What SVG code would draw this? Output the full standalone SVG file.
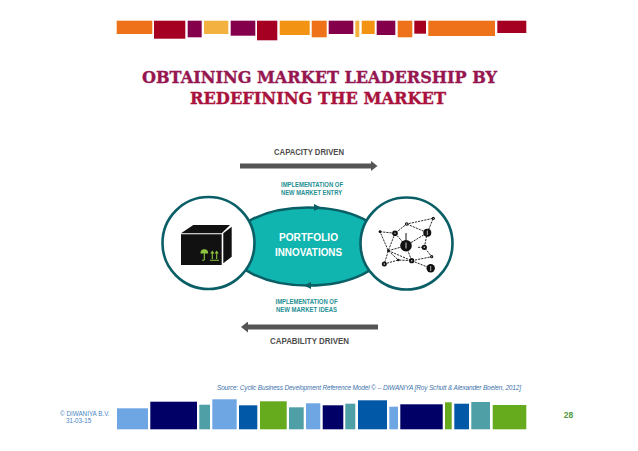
<svg xmlns="http://www.w3.org/2000/svg" width="638" height="451" viewBox="0 0 638 451">
<style>
text{font-family:"Liberation Sans",Arial,sans-serif}
.title{font-family:"DejaVu Serif","Liberation Serif",serif;font-weight:700;font-size:16px;text-anchor:middle;stroke-width:.35px}
.drv{font-size:8.600px;font-weight:700;fill:#4d4d4d;text-anchor:middle}
.impl{font-size:6.300px;font-weight:700;fill:#1f8f94;text-anchor:middle}
.o{fill:#ee7219}.r{fill:#a50021}.p{fill:#84004b}.y{fill:#f3b13f}.a{fill:#f39314}
.lb{fill:#6ea6e4}.n{fill:#000066}.t{fill:#4f9fa6}.b{fill:#0058a6}.g{fill:#66aa1e}
.ring{fill:#fff;stroke:#0a5f66;stroke-width:2.600}
.ln{stroke:#111;stroke-width:.9;stroke-dasharray:2.200 1;fill:none}
.nd{fill:#111}
.hole{fill:#ddd}
.ic{stroke:#8cc63f;stroke-width:1.100;fill:none}
</style>
<defs>
<marker id="ah" markerUnits="userSpaceOnUse" markerWidth="8" markerHeight="11" refX="1" refY="5.500" orient="auto"><path d="M0 0L7 5.500L0 11Z" fill="#555"/></marker>
</defs>
<g id="top-bars">
<rect class="o" x="116.700" y="20.700" width="35.600" height="13.300"/>
<rect class="r" x="154" y="20.700" width="31.300" height="18"/>
<rect class="p" x="187.700" y="20.700" width="14" height="16.600"/>
<rect class="y" x="204" y="20.700" width="24.300" height="13.300"/>
<rect class="p" x="230.700" y="20.700" width="24.600" height="15"/>
<rect class="r" x="257" y="20.700" width="20.300" height="19.600"/>
<rect class="a" x="279.700" y="20.700" width="30" height="14.300"/>
<rect class="o" x="311.700" y="20.700" width="15" height="16.600"/>
<rect class="p" x="328.700" y="20.700" width="24.600" height="13.300"/>
<rect class="y" x="355.300" y="20.700" width="4" height="16.300"/>
<rect class="a" x="361.700" y="20.700" width="13" height="13.300"/>
<rect class="p" x="376.700" y="20.700" width="18.600" height="14.300"/>
<rect class="o" x="397.700" y="20.700" width="14.600" height="16.600"/>
<rect class="r" x="414.300" y="20.700" width="11.700" height="13"/>
<rect class="o" x="428.300" y="20.700" width="66.700" height="15.300"/>
<rect class="r" x="497.300" y="20.700" width="29" height="12.300"/>
</g>
<g id="title">
<text class="title" x="319.500" y="83" fill="#961650" stroke="#961650" textLength="355" lengthAdjust="spacingAndGlyphs">OBTAINING MARKET LEADERSHIP BY</text>
<text class="title" x="318" y="103.500" fill="#a8123c" stroke="#a8123c" textLength="256" lengthAdjust="spacingAndGlyphs">REDEFINING THE MARKET</text>
</g>
<g id="connectors">
<path d="M240 166H371.500" stroke="#555" stroke-width="5" marker-end="url(#ah)"/>
<path d="M378 327H247" stroke="#555" stroke-width="5" marker-end="url(#ah)"/>
</g>
<g id="capacity-label"><text class="drv" x="309" y="155" textLength="70" lengthAdjust="spacingAndGlyphs">CAPACITY DRIVEN</text></g>
<g id="impl-entry">
<text class="impl" x="312" y="186.500" textLength="62" lengthAdjust="spacingAndGlyphs">IMPLEMENTATION OF</text>
<text class="impl" x="311.500" y="194.500" textLength="61" lengthAdjust="spacingAndGlyphs">NEW MARKET ENTRY</text>
</g>
<g id="portfolio">
<ellipse cx="308" cy="246.500" rx="78" ry="39" fill="#0fb5ae" stroke="#0a5f66" stroke-width="2.600"/>
<path d="M314 204L321 207.500L314 211Z" fill="#0a5f66"/>
<path d="M311 282L304 285.500L311 289Z" fill="#0a5f66"/>
<text x="308.500" y="241" font-size="10.800" font-weight="700" fill="#fff" text-anchor="middle" textLength="59" lengthAdjust="spacingAndGlyphs">PORTFOLIO</text>
<text x="308.500" y="256" font-size="10.800" font-weight="700" fill="#fff" text-anchor="middle" textLength="67" lengthAdjust="spacingAndGlyphs">INNOVATIONS</text>
</g>
<g id="left-circle">
<circle class="ring" cx="208.500" cy="243" r="46"/>
<path d="M181 233.300L193.300 225H230L221.700 233.300Z" fill="#111"/>
<path d="M181 234.300H221.700V265H181Z" fill="#111"/>
<path d="M223.300 233.300L231.700 226.700V256.700L223.300 263.300Z" fill="#111"/>
<path class="ic" style="fill:#8cc63f" d="M201 253a3.300 3.300 0 0 1 6.600 0Z"/>
<path class="ic" d="M204.300 253V259.500a1.200 1.200 0 0 1-2 .3"/>
<path class="ic" d="M212.300 259V251.500M210.800 253.500L212.300 251.500L213.800 253.500M216.700 259V251.500M215.200 253.500L216.700 251.500L218.200 253.500M210 260.300H219"/>
</g>
<g id="right-circle">
<circle class="ring" cx="406.500" cy="243.500" r="46"/>
<path class="ln" d="M380 231.700L395 233.300L406.700 224L433.300 218.300L427.300 232.700L406.700 224M395 233.300L388.300 250.700L380 231.700M395 233.300L406 245.700L427.300 232.700M388.300 250.700L406 245.700L411.700 260.700L398.300 260L384.300 264L388.300 250.700L398.300 260M388.300 250.700L411.700 260.700L431.700 256.700L424.300 247.300L427.300 232.700M411.700 260.700L430.700 268.300M418 247.300H424.300"/>
<path d="M406 245V233" stroke="#111" stroke-width="1"/>
<circle class="nd" cx="380" cy="231.700" r="1.400"/>
<circle class="nd" cx="395" cy="233.300" r="2.800"/><circle class="hole" cx="395" cy="233.300" r=".7"/>
<circle class="nd" cx="406.700" cy="224" r="1.800"/><circle class="hole" cx="406.700" cy="224" r=".7"/>
<circle class="nd" cx="433.300" cy="218.300" r="1.600"/><circle class="hole" cx="433.300" cy="218.300" r=".5"/>
<circle class="nd" cx="427.300" cy="232.700" r="4"/><path d="M427.300 230.500V235" stroke="#ddd" stroke-width=".8"/>
<circle class="nd" cx="406" cy="245.700" r="5.800"/><path d="M406 242.500V248.500" stroke="#ccc" stroke-width="1"/>
<circle class="nd" cx="388.300" cy="250.700" r="1.300"/>
<circle class="nd" cx="424.300" cy="247.300" r="2.600"/><circle class="hole" cx="424.300" cy="247.300" r=".8"/>
<circle class="nd" cx="431.700" cy="256.700" r="1.600"/><circle class="hole" cx="431.700" cy="256.700" r=".5"/>
<circle class="nd" cx="411.700" cy="260.700" r="2.600"/><circle class="hole" cx="411.700" cy="260.700" r=".7"/>
<circle class="nd" cx="398.300" cy="260" r="1.300"/>
<circle class="nd" cx="384.300" cy="264" r="2.500"/><circle class="hole" cx="384.300" cy="264" r=".8"/>
<circle class="nd" cx="430.700" cy="268.300" r="4.200"/><path d="M430.700 266V271" stroke="#ddd" stroke-width=".8"/>
</g>
<g id="impl-ideas">
<text class="impl" x="306.500" y="303.500" textLength="62" lengthAdjust="spacingAndGlyphs">IMPLEMENTATION OF</text>
<text class="impl" x="306.500" y="311.500" textLength="61" lengthAdjust="spacingAndGlyphs">NEW MARKET IDEAS</text>
</g>
<g id="capability-label"><text class="drv" x="309.500" y="344" textLength="79" lengthAdjust="spacingAndGlyphs">CAPABILITY DRIVEN</text></g>
<g id="source"><text x="369" y="390" font-size="6.500" font-style="italic" fill="#3f74ad" text-anchor="middle" textLength="304" lengthAdjust="spacing">Source: Cyclic Business Development Reference Model © -- DIWANIYA [Roy Schutt &amp; Alexander Boelen, 2012]</text></g>
<g id="bottom-bars">
<rect class="lb" x="117" y="408.300" width="31" height="21"/>
<rect class="n" x="150.300" y="401.700" width="46.700" height="27.600"/>
<rect class="t" x="199.300" y="404.700" width="10.700" height="24.600"/>
<rect class="lb" x="212.300" y="399.300" width="24.400" height="30"/>
<rect class="b" x="239" y="405.300" width="18.300" height="24"/>
<rect class="g" x="260" y="401.300" width="26.700" height="28"/>
<rect class="t" x="289" y="407.300" width="14.700" height="22"/>
<rect class="lb" x="306" y="403.300" width="14.300" height="26"/>
<rect class="n" x="322.700" y="405.300" width="20.600" height="24"/>
<rect class="t" x="345.300" y="403.700" width="10" height="25.600"/>
<rect class="b" x="358" y="400.300" width="29" height="29"/>
<rect class="lb" x="389.300" y="406.700" width="8.700" height="22.600"/>
<rect class="n" x="400.300" y="404.300" width="42.400" height="25"/>
<rect class="g" x="445" y="402.300" width="6.700" height="27"/>
<rect class="b" x="454.300" y="403.700" width="14.700" height="25.600"/>
<rect class="t" x="471.300" y="402" width="18.700" height="27.300"/>
<rect class="g" x="492.700" y="405" width="33.600" height="24.300"/>
</g>
<g id="footer">
<text x="60" y="416" font-size="6.300" fill="#4a86c5">© DIWANIYA B.V.</text>
<text x="66" y="423" font-size="6.300" fill="#4a86c5">31-03-15</text>
<text x="568.500" y="418" font-size="8.500" font-weight="700" fill="#4f9a3c" text-anchor="middle">28</text>
</g>
</svg>
